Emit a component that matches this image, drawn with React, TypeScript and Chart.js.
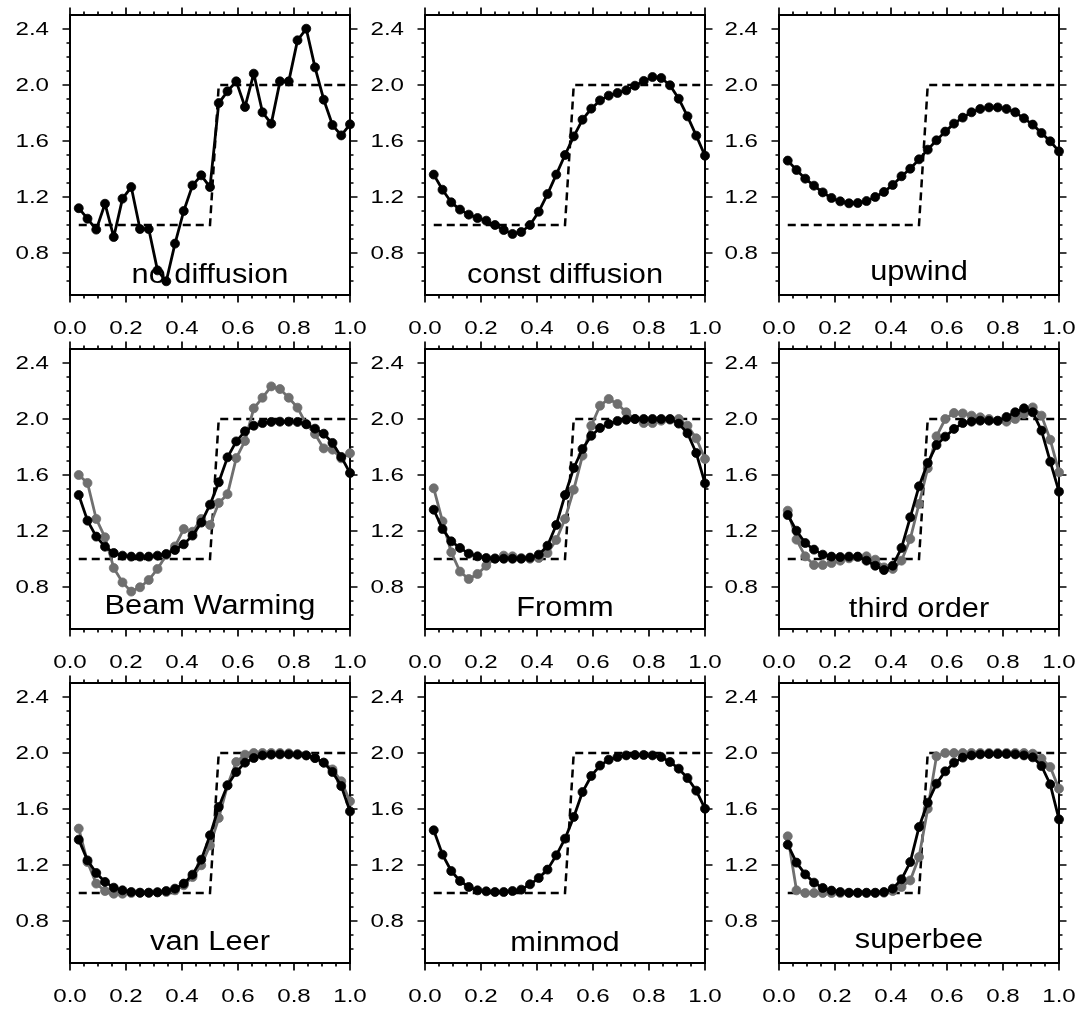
import React, { useEffect, useRef } from "react";
import { Chart, registerables } from "chart.js";

Chart.register(...registerables);

// ---------- data ----------
const xGrid = [
  0.03125, 0.0625, 0.09375, 0.125, 0.15625, 0.1875, 0.21875, 0.25,
  0.28125, 0.3125, 0.34375, 0.375, 0.40625, 0.4375, 0.46875, 0.5,
  0.53125, 0.5625, 0.59375, 0.625, 0.65625, 0.6875, 0.71875, 0.75,
  0.78125, 0.8125, 0.84375, 0.875, 0.90625, 0.9375, 0.96875, 1.0,
];

const initialCondition = [
  1, 1, 1, 1, 1, 1, 1, 1, 1, 1, 1, 1, 1, 1, 1, 1,
  2, 2, 2, 2, 2, 2, 2, 2, 2, 2, 2, 2, 2, 2, 2, 2,
];

const xTickValues = [0.0, 0.2, 0.4, 0.6, 0.8, 1.0];
const xMinorTickValues = [0.05, 0.1, 0.15, 0.25, 0.3, 0.35, 0.45, 0.5, 0.55, 0.65, 0.7, 0.75, 0.85, 0.9, 0.95];
const yTickValues = [0.8, 1.2, 1.6, 2.0, 2.4];
const yMinorTickValues = [0.6, 0.7, 0.9, 1.0, 1.1, 1.3, 1.4, 1.5, 1.7, 1.8, 1.9, 2.1, 2.2, 2.3];

const panelTitles = [
  "no diffusion", "const diffusion", "upwind",
  "Beam Warming", "Fromm", "third order",
  "van Leer", "minmod", "superbee",
];

const noDiffusion = [1.12, 1.045, 0.967, 1.152, 0.914, 1.188, 1.271, 0.971, 0.971, 0.676, 0.598, 0.867, 1.1, 1.283, 1.355, 1.271, 1.871, 1.955, 2.026, 1.843, 2.081, 1.805, 1.724, 2.026, 2.026, 2.319, 2.402, 2.126, 1.895, 1.714, 1.64, 1.719];
const constDiffusion = [1.36, 1.252, 1.162, 1.11, 1.074, 1.05, 1.031, 1.0, 0.964, 0.936, 0.95, 1.0, 1.095, 1.221, 1.36, 1.5, 1.633, 1.752, 1.831, 1.89, 1.924, 1.943, 1.962, 1.995, 2.029, 2.057, 2.05, 1.998, 1.902, 1.776, 1.638, 1.495];
const upwind = [1.46, 1.393, 1.331, 1.281, 1.233, 1.193, 1.169, 1.155, 1.157, 1.171, 1.2, 1.236, 1.286, 1.348, 1.402, 1.469, 1.538, 1.605, 1.667, 1.724, 1.767, 1.805, 1.829, 1.84, 1.84, 1.829, 1.805, 1.762, 1.717, 1.657, 1.598, 1.526];
const beamWarming = [1.457, 1.274, 1.16, 1.088, 1.043, 1.024, 1.017, 1.017, 1.017, 1.024, 1.036, 1.064, 1.105, 1.167, 1.26, 1.388, 1.548, 1.726, 1.84, 1.912, 1.952, 1.971, 1.979, 1.981, 1.981, 1.979, 1.962, 1.931, 1.895, 1.829, 1.729, 1.614];
const beamWarmingGray = [1.6, 1.543, 1.286, 1.155, 0.936, 0.833, 0.767, 0.798, 0.85, 0.929, 1.029, 1.09, 1.214, 1.195, 1.286, 1.243, 1.4, 1.463, 1.721, 1.843, 2.076, 2.152, 2.233, 2.214, 2.152, 2.081, 1.964, 1.893, 1.79, 1.781, 1.719, 1.755];
const fromm = [1.352, 1.214, 1.126, 1.079, 1.038, 1.019, 1.007, 1.002, 1.002, 1.002, 1.002, 1.01, 1.031, 1.095, 1.243, 1.457, 1.65, 1.786, 1.88, 1.936, 1.964, 1.986, 1.995, 2.0, 2.0, 2.0, 2.0, 2.0, 1.967, 1.898, 1.757, 1.54];
const frommGray = [1.505, 1.269, 1.048, 0.91, 0.857, 0.893, 0.952, 1.005, 1.024, 1.019, 1.007, 1.002, 1.007, 1.043, 1.136, 1.286, 1.495, 1.738, 1.952, 2.095, 2.143, 2.107, 2.048, 2.0, 1.971, 1.971, 1.988, 1.995, 2.0, 1.952, 1.862, 1.714];
const thirdOrder = [1.314, 1.202, 1.114, 1.067, 1.031, 1.017, 1.014, 1.017, 1.017, 0.988, 0.952, 0.921, 0.952, 1.079, 1.298, 1.519, 1.686, 1.814, 1.874, 1.929, 1.971, 1.981, 1.988, 1.988, 1.988, 2.014, 2.048, 2.076, 2.048, 1.917, 1.695, 1.481];
const thirdOrderGray = [1.345, 1.138, 1.019, 0.957, 0.957, 0.971, 0.988, 1.005, 1.014, 1.019, 0.995, 0.94, 0.929, 0.988, 1.143, 1.393, 1.648, 1.876, 2.0, 2.043, 2.04, 2.024, 2.012, 2.0, 1.986, 1.981, 2.0, 2.036, 2.083, 2.024, 1.852, 1.619];
const vanLeer = [1.381, 1.233, 1.143, 1.079, 1.038, 1.019, 1.007, 1.002, 1.002, 1.005, 1.014, 1.031, 1.067, 1.131, 1.238, 1.412, 1.614, 1.769, 1.864, 1.931, 1.964, 1.983, 1.988, 1.99, 1.99, 1.988, 1.983, 1.964, 1.931, 1.864, 1.764, 1.583];
const vanLeerGray = [1.46, 1.221, 1.067, 1.014, 0.995, 0.995, 1.0, 1.002, 1.002, 1.005, 1.007, 1.019, 1.055, 1.114, 1.198, 1.34, 1.536, 1.769, 1.936, 1.988, 2.0, 2.0, 2.0, 2.0, 1.998, 1.993, 1.983, 1.964, 1.931, 1.883, 1.798, 1.655];
const minmod = [1.448, 1.274, 1.157, 1.086, 1.043, 1.019, 1.012, 1.007, 1.007, 1.014, 1.024, 1.062, 1.107, 1.167, 1.269, 1.388, 1.543, 1.721, 1.836, 1.91, 1.952, 1.971, 1.983, 1.986, 1.986, 1.983, 1.971, 1.936, 1.888, 1.821, 1.731, 1.602];
const superbee = [1.345, 1.217, 1.133, 1.074, 1.036, 1.017, 1.007, 1.002, 1.002, 1.002, 1.002, 1.007, 1.031, 1.098, 1.221, 1.471, 1.645, 1.781, 1.869, 1.931, 1.967, 1.983, 1.99, 1.993, 1.993, 1.993, 1.99, 1.983, 1.969, 1.907, 1.776, 1.526];
const superbeeGray = [1.405, 1.019, 1.0, 1.0, 1.0, 1.0, 1.0, 1.0, 1.0, 1.0, 1.0, 1.002, 1.014, 1.043, 1.09, 1.257, 1.602, 1.976, 2.0, 2.0, 2.0, 2.0, 2.0, 2.0, 2.0, 2.0, 2.0, 2.0, 1.995, 1.96, 1.9, 1.745];

const blackSeries = [noDiffusion, constDiffusion, upwind, beamWarming, fromm, thirdOrder, vanLeer, minmod, superbee];
const graySeries: (number[] | null)[] = [null, null, null, beamWarmingGray, frommGray, thirdOrderGray, vanLeerGray, null, superbeeGray];

// ---------- layout / style ----------
const COL_LEFTS = [70, 425, 779];
const ROW_TOPS = [15, 349, 683];
const PLOT = 280;
const CANVAS_W = 375;
const CANVAS_H = 345;
const PAD_LEFT = 70;
const PAD_TOP = 15;
const FONT = '"Liberation Sans", Arial, Helvetica, sans-serif';
const GRAY = "#6f6f6f";
const TEXT_STRETCH = 1.27;
const TITLE_STRETCH = 1.14;

function stretchedText(ctx: any, text: string, x: number, y: number, sx: number, align: string) {
  ctx.save();
  ctx.translate(x, y);
  ctx.scale(sx, 1);
  ctx.textAlign = align;
  ctx.fillText(text, 0, 0);
  ctx.restore();
}

const framePlugin = {
  id: "panelFrame",
  beforeDatasetsDraw(chart: any, _args: any, opts: any) {
    const { ctx, chartArea: a } = chart;
    const xs = chart.scales.x;
    const ys = chart.scales.y;
    ctx.save();
    ctx.fillStyle = "#000";

    // panel title (drawn beneath the data)
    ctx.font = `27px ${FONT}`;
    ctx.textBaseline = "alphabetic";
    const m = ctx.measureText(opts.text);
    const cy = a.bottom - 22.5;
    stretchedText(ctx, opts.text, (a.left + a.right) / 2, cy + (m.actualBoundingBoxAscent - m.actualBoundingBoxDescent) / 2, TITLE_STRETCH, "center");

    // tick labels from the scales
    ctx.font = `19px ${FONT}`;
    ctx.textBaseline = "middle";
    xTickValues.forEach((v) => {
      stretchedText(ctx, v.toFixed(1), xs.getPixelForValue(v), a.bottom + 33.5, TEXT_STRETCH, "center");
    });
    yTickValues.forEach((v) => {
      stretchedText(ctx, v.toFixed(1), a.left - 21, ys.getPixelForValue(v) + 0.5, TEXT_STRETCH, "right");
    });

    // frame
    ctx.strokeStyle = "#000";
    ctx.lineWidth = 2;
    ctx.strokeRect(a.left, a.top, a.right - a.left, a.bottom - a.top);

    // ticks (outward) on all four sides
    ctx.lineWidth = 1.7;
    ctx.beginPath();
    const xt = (v: number, len: number) => {
      const p = xs.getPixelForValue(v);
      ctx.moveTo(p, a.bottom);
      ctx.lineTo(p, a.bottom + len);
      ctx.moveTo(p, a.top);
      ctx.lineTo(p, a.top - len);
    };
    const yt = (v: number, len: number) => {
      const p = ys.getPixelForValue(v);
      ctx.moveTo(a.left, p);
      ctx.lineTo(a.left - len, p);
      ctx.moveTo(a.right, p);
      ctx.lineTo(a.right + len, p);
    };
    xTickValues.forEach((v) => xt(v, 7.5));
    xMinorTickValues.forEach((v) => xt(v, 3.5));
    yTickValues.forEach((v) => yt(v, 7.5));
    yMinorTickValues.forEach((v) => yt(v, 3.5));
    ctx.stroke();
    ctx.restore();
  },
};

function Panel({ index }: { index: number }) {
  const ref = useRef<HTMLCanvasElement>(null);
  const col = index % 3;
  const row = Math.floor(index / 3);

  useEffect(() => {
    if (!ref.current) return;
    const black = blackSeries[index];
    const gray = graySeries[index];
    const mk = (vals: number[]) => xGrid.map((x, i) => ({ x, y: vals[i] }));
    const datasets: any[] = [
      {
        label: "black",
        data: mk(black),
        borderColor: "#000",
        backgroundColor: "#000",
        pointBackgroundColor: "#000",
        pointBorderColor: "#000",
        borderWidth: 2.8,
        pointRadius: 4.5,
        pointBorderWidth: 0.8,
        borderJoinStyle: "round",
        order: 0,
        clip: false,
      },
    ];
    if (gray) {
      datasets.push({
        label: "gray",
        data: mk(gray),
        borderColor: GRAY,
        backgroundColor: GRAY,
        pointBackgroundColor: GRAY,
        pointBorderColor: GRAY,
        borderWidth: 2.8,
        pointRadius: 4.5,
        pointBorderWidth: 0.8,
        borderJoinStyle: "round",
        order: 1,
        clip: false,
      });
    }
    datasets.push({
      label: "initial",
      data: mk(initialCondition),
      borderColor: "#000",
      borderWidth: 2.5,
      borderDash: [8, 5],
      pointRadius: 0,
      order: 2,
      clip: false,
    });

    const chart = new Chart(ref.current, {
      type: "line",
      data: { datasets },
      plugins: [framePlugin],
      options: {
        responsive: false,
        animation: false,
        devicePixelRatio: 1,
        layout: { padding: { left: 0, top: PAD_TOP, right: CANVAS_W - PAD_LEFT - PLOT, bottom: 0 } },
        elements: { line: { tension: 0 } },
        plugins: {
          legend: { display: false },
          tooltip: { enabled: false },
          title: { display: false },
          panelFrame: { text: panelTitles[index] },
        } as any,
        scales: {
          x: {
            type: "linear",
            min: 0,
            max: 1,
            afterBuildTicks: (s: any) => {
              s.ticks = xTickValues.map((v) => ({ value: v }));
            },
            afterFit: (s: any) => {
              s.height = CANVAS_H - PAD_TOP - PLOT;
              s.paddingLeft = 0;
              s.paddingRight = 0;
            },
            grid: { display: false, drawTicks: false, drawOnChartArea: false },
            border: { display: false },
            ticks: { display: false },
          },
          y: {
            type: "linear",
            min: 0.5,
            max: 2.5,
            afterBuildTicks: (s: any) => {
              s.ticks = yTickValues.map((v) => ({ value: v }));
            },
            afterFit: (s: any) => {
              s.width = PAD_LEFT;
              s.paddingTop = 0;
              s.paddingBottom = 0;
            },
            grid: { display: false, drawTicks: false, drawOnChartArea: false },
            border: { display: false },
            ticks: { display: false },
          },
        },
      } as any,
    });
    return () => chart.destroy();
  }, [index]);

  return (
    <canvas
      ref={ref}
      width={CANVAS_W}
      height={CANVAS_H}
      style={{
        position: "absolute",
        left: COL_LEFTS[col] - PAD_LEFT,
        top: ROW_TOPS[row] - PAD_TOP,
        width: CANVAS_W,
        height: CANVAS_H,
      }}
    />
  );
}

export default function App() {
  return (
    <div
      style={{
        position: "absolute",
        left: 0,
        top: 0,
        width: 1091,
        height: 1009,
        background: "#fff",
        overflow: "hidden",
      }}
    >
      {panelTitles.map((_, i) => (
        <Panel key={i} index={i} />
      ))}
    </div>
  );
}
